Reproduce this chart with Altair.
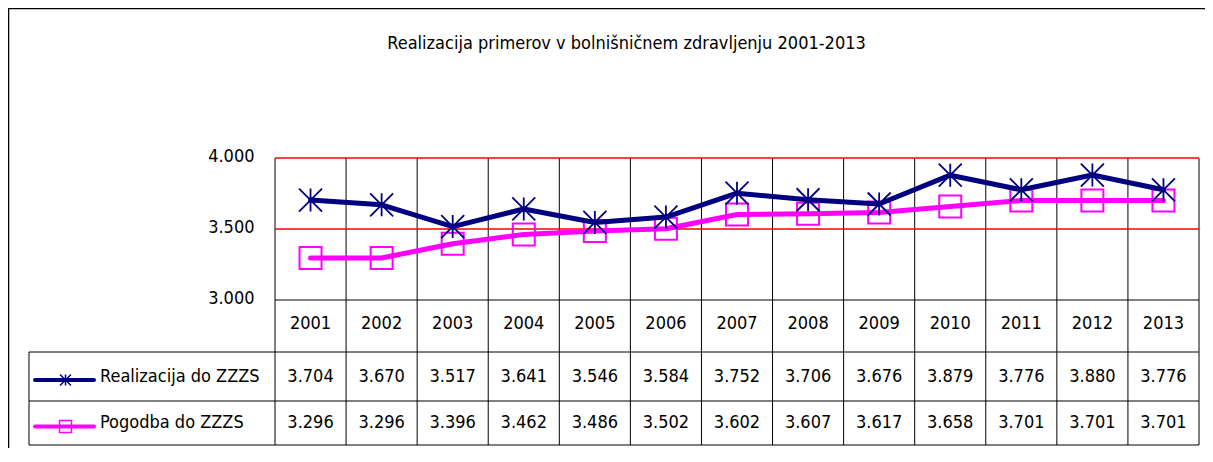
import altair as alt
import pandas as pd

years = [2001, 2002, 2003, 2004, 2005, 2006, 2007, 2008, 2009, 2010, 2011, 2012, 2013]
realizacija = [3704, 3670, 3517, 3641, 3546, 3584, 3752, 3706, 3676, 3879, 3776, 3880, 3776]
pogodba = [3296, 3296, 3396, 3462, 3486, 3502, 3602, 3607, 3617, 3658, 3701, 3701, 3701]
series_names = ["Realizacija do ZZZS", "Pogodba do ZZZS"]
y_ticks = [3000, 3500, 4000]
grid_red = [3500, 4000]
title_text = "Realizacija primerov v bolnišničnem zdravljenju 2001-2013"

W, H = 924, 142
FONT = "DejaVu Sans Condensed, Liberation Sans Narrow, Arial Narrow, sans-serif"
FS = 18
NAVY = "#000080"
MAGENTA = "#FF00FF"
STAR = "M0,-1L0,1M-1,-1L1,1M-1,1L1,-1"


def fmt(v):
    return f"{v:,}".replace(",", ".")


df = pd.DataFrame({
    "idx": list(range(len(years))),
    "year": [str(y) for y in years],
    "real": realizacija,
    "pog": pogodba,
    "real_lbl": [fmt(v) for v in realizacija],
    "pog_lbl": [fmt(v) for v in pogodba],
})

xscale = alt.Scale(domain=[-0.5, len(years) - 0.5], nice=False, zero=False)
yscale = alt.Scale(domain=[3000, 4000], nice=False, zero=False)
X = alt.X("idx:Q", scale=xscale, axis=None)

yaxis = alt.Axis(values=y_ticks, labelExpr="replace(format(datum.value, ','), ',', '.')",
                 domain=False, ticks=False, grid=False, title=None, labelFont=FONT,
                 labelFontSize=FS, labelColor="black", labelPadding=21, labelOffset=-2)

one = pd.DataFrame({"k": [0]})


def hline(x1, x2, y, color="black", sw=1):
    return alt.Chart(one).mark_rule(color=color, strokeWidth=sw).encode(
        x=alt.value(x1), x2=alt.value(x2), y=alt.value(y))


def vline(x, y1, y2, color="black", sw=1):
    return alt.Chart(one).mark_rule(color=color, strokeWidth=sw).encode(
        x=alt.value(x), y=alt.value(y1), y2=alt.value(y2))


bounds = pd.DataFrame({"b": [k - 0.5 for k in range(len(years) + 1)]})
vlines = alt.Chart(bounds).mark_rule(color="black", strokeWidth=1).encode(
    x=alt.X("b:Q", scale=xscale, axis=None), y=alt.value(0), y2=alt.value(287))

red = alt.Chart(pd.DataFrame({"v": grid_red})).mark_rule(color="#FF0000", strokeWidth=1.6).encode(
    y=alt.Y("v:Q", scale=yscale, axis=yaxis), x=alt.value(0), x2=alt.value(W))

base_line = alt.Chart(pd.DataFrame({"v": [y_ticks[0]]})).mark_rule(color="black", strokeWidth=1).encode(
    y=alt.Y("v:Q", scale=yscale), x=alt.value(0), x2=alt.value(W))

base = alt.Chart(df)

line_pog = base.mark_line(color=MAGENTA, strokeWidth=5, strokeCap="round", strokeJoin="round").encode(
    x=X, y=alt.Y("pog:Q", scale=yscale))
pts_pog = base.mark_point(shape="square", size=484, color=MAGENTA, strokeWidth=2,
                          filled=False, opacity=1).encode(x=X, y=alt.Y("pog:Q", scale=yscale))
line_real = base.mark_line(color=NAVY, strokeWidth=5, strokeCap="round", strokeJoin="round").encode(
    x=X, y=alt.Y("real:Q", scale=yscale))
pts_real = base.mark_point(shape=STAR, size=529, color=NAVY, strokeWidth=1.8,
                           filled=False, opacity=1).encode(x=X, y=alt.Y("real:Q", scale=yscale))

txt = dict(font=FONT, fontSize=FS, color="black", baseline="middle", align="center")
year_txt = base.mark_text(**txt).encode(x=X, y=alt.value(166), text="year:N")
real_txt = base.mark_text(**txt).encode(x=X, y=alt.value(219), text="real_lbl:N")
pog_txt = base.mark_text(**txt).encode(x=X, y=alt.value(264.5), text="pog_lbl:N")

leg0 = alt.Chart(pd.DataFrame({"name": [series_names[0]]}))
leg1 = alt.Chart(pd.DataFrame({"name": [series_names[1]]}))
leg_line0 = leg0.mark_rule(color=NAVY, strokeWidth=4, strokeCap="round").encode(
    x=alt.value(-240), x2=alt.value(-181), y=alt.value(222))
leg_pt0 = leg0.mark_point(shape=STAR, size=121, color=NAVY, strokeWidth=1.5, filled=False, opacity=1).encode(
    x=alt.value(-209.5), y=alt.value(222))
leg_txt0 = leg0.mark_text(font=FONT, fontSize=FS, color="black", baseline="middle", align="left").encode(
    x=alt.value(-175), y=alt.value(219), text="name:N")
leg_line1 = leg1.mark_rule(color=MAGENTA, strokeWidth=4, strokeCap="round").encode(
    x=alt.value(-240), x2=alt.value(-181), y=alt.value(268.5))
leg_pt1 = leg1.mark_point(shape="square", size=144, color=MAGENTA, strokeWidth=1.5, filled=False, opacity=1).encode(
    x=alt.value(-209.5), y=alt.value(268.5))
leg_txt1 = leg1.mark_text(font=FONT, fontSize=FS, color="black", baseline="middle", align="left").encode(
    x=alt.value(-175), y=alt.value(264.5), text="name:N")

title = alt.Chart(pd.DataFrame({"t": [title_text]})).mark_text(
    font=FONT, fontSize=FS, color="black", align="center", baseline="middle").encode(
    x=alt.value(351.5), y=alt.value(-114), text="t:N")

layers = [
    hline(-267, 935, -149.5, sw=1.5),
    vline(-266.5, -150, 300, sw=1.5),
    vlines, red, base_line,
    hline(-246, W, 194), hline(-246, W, 243), hline(-246, W, 287),
    vline(-246, 194, 287),
    line_pog, pts_pog, line_real, pts_real,
    year_txt, real_txt, pog_txt,
    leg_line0, leg_pt0, leg_txt0, leg_line1, leg_pt1, leg_txt1,
    title,
]

chart = alt.layer(*layers).properties(
    width=W, height=H,
    padding={"left": 267, "top": 150, "right": 6, "bottom": 148},
    autosize=alt.AutoSizeParams(type="none"),
).configure_view(stroke=None)

chart.save("out.html", embed_options={"renderer": "svg", "actions": False})
